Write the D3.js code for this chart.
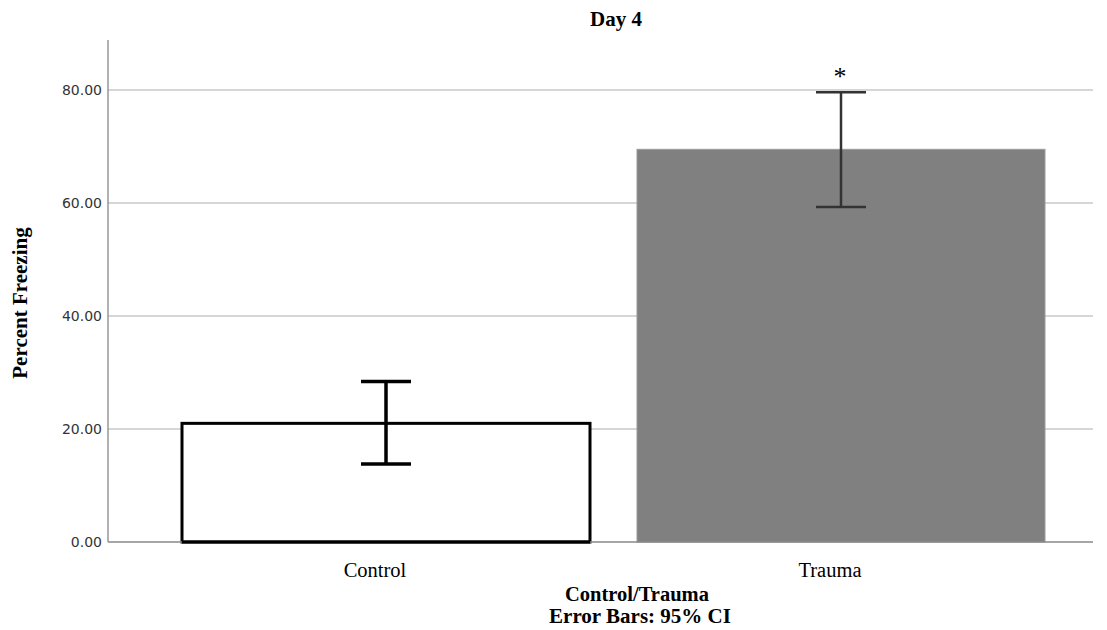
<!DOCTYPE html>
<html><head><meta charset="utf-8">
<script src="https://cdn.jsdelivr.net/npm/d3@7"></script>
<style>body{margin:0;background:#fff}</style>
</head><body>
<svg id="c" width="1107" height="630"></svg>
<script>
const categories = ["Control", "Trauma"];
const means = [21.0, 69.5];
const ciLow = [13.8, 59.3];
const ciHigh = [28.4, 79.6];
const yTicks = [0, 20, 40, 60, 80];
const title = "Day 4";
const yLabel = "Percent Freezing";
const xLabel = "Control/Trauma";
const note = "Error Bars: 95% CI";

const svg = d3.select("#c");
const plotL = 108, plotR = 1093, plotT = 40, plotB = 542;
const y = d3.scaleLinear().domain([0, 88.85]).range([plotB, plotT]);
const x = d3.scaleBand().domain(categories).range([135, 1092]).paddingInner(0.1033).paddingOuter(0.1033);

// gridlines
svg.append("g").selectAll("line").data(yTicks.filter(d => d > 0)).join("line")
  .attr("x1", plotL).attr("x2", plotR).attr("y1", d => y(d)).attr("y2", d => y(d))
  .attr("stroke", "#c8c8c8").attr("stroke-width", 1.3);

// y axis
const yAxis = d3.axisLeft(y).tickValues(yTicks).tickFormat(d3.format(".2f")).tickSize(0).tickPadding(6);
const ga = svg.append("g").attr("transform", `translate(${plotL},0)`).call(yAxis);
ga.select(".domain").remove();
ga.selectAll("text").attr("font-family", "DejaVu Sans").attr("font-size", 14).attr("fill", "#333");
svg.append("line").attr("x1", plotL).attr("x2", plotL).attr("y1", plotT).attr("y2", plotB)
  .attr("stroke", "#888").attr("stroke-width", 1.3);

// bars
svg.append("g").selectAll("rect").data(categories).join("rect")
  .attr("x", d => x(d)).attr("width", x.bandwidth())
  .attr("y", (d, i) => y(means[i])).attr("height", (d, i) => y(0) - y(means[i]))
  .attr("fill", (d, i) => i === 0 ? "#fff" : "#808080")
  .attr("stroke", (d, i) => i === 0 ? "#000" : "#9a9a9a")
  .attr("stroke-width", (d, i) => i === 0 ? 3 : 1);

// baseline
svg.append("line").attr("x1", plotL).attr("x2", plotR).attr("y1", plotB).attr("y2", plotB)
  .attr("stroke", "#888").attr("stroke-width", 1.3);
svg.append("line").attr("x1", x(categories[0])).attr("x2", x(categories[0]) + x.bandwidth())
  .attr("y1", y(0)).attr("y2", y(0)).attr("stroke", "#000").attr("stroke-width", 3);

// error bars
const eb = svg.append("g");
categories.forEach((c, i) => {
  const cx = x(c) + x.bandwidth() / 2;
  const col = i === 0 ? "#000" : "#333";
  const w = i === 0 ? 3.5 : 2.5;
  eb.append("line").attr("x1", cx).attr("x2", cx).attr("y1", y(ciLow[i])).attr("y2", y(ciHigh[i])).attr("stroke", col).attr("stroke-width", w);
  eb.append("line").attr("x1", cx - 25).attr("x2", cx + 25).attr("y1", y(ciHigh[i])).attr("y2", y(ciHigh[i])).attr("stroke", col).attr("stroke-width", w);
  eb.append("line").attr("x1", cx - 25).attr("x2", cx + 25).attr("y1", y(ciLow[i])).attr("y2", y(ciLow[i])).attr("stroke", col).attr("stroke-width", w);
});

// asterisk
svg.append("text").attr("x", x("Trauma") + x.bandwidth() / 2 - 1).attr("y", y(ciHigh[1]) - 7)
  .attr("text-anchor", "middle").attr("font-family", "Liberation Serif").attr("font-size", 26).text("*");

// category labels
svg.append("g").selectAll("text").data(categories).join("text")
  .attr("x", d => x(d) + x.bandwidth() / 2 - 11).attr("y", 577)
  .attr("text-anchor", "middle").attr("font-family", "Liberation Serif").attr("font-size", 20.5).text(d => d);

// titles
svg.append("text").attr("x", 616).attr("y", 26).attr("text-anchor", "middle")
  .attr("font-family", "Liberation Serif").attr("font-weight", "bold").attr("font-size", 21).text(title);
svg.append("text").attr("x", 637).attr("y", 601).attr("text-anchor", "middle")
  .attr("font-family", "Liberation Serif").attr("font-weight", "bold").attr("font-size", 20.5).text(xLabel);
svg.append("text").attr("x", 640).attr("y", 623).attr("text-anchor", "middle")
  .attr("font-family", "Liberation Serif").attr("font-weight", "bold").attr("font-size", 21).text(note);
svg.append("text").attr("transform", "translate(27,303) rotate(-90)").attr("text-anchor", "middle")
  .attr("font-family", "Liberation Serif").attr("font-weight", "bold").attr("font-size", 21).text(yLabel);
</script>
</body></html>
